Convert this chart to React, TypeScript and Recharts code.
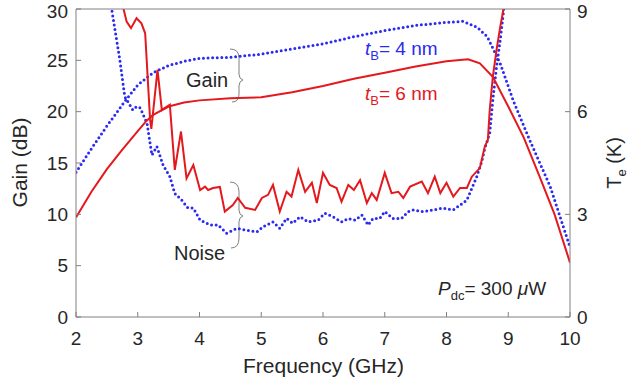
import { ComposedChart, Line, XAxis, YAxis, Customized } from "recharts";

const RED = "#e3191e";
const BLUE = "#2a2af2";
const INK = "#262626";
const AXIS = "#808080";
const font = "'Liberation Sans', Arial, sans-serif";

// frequency ticks (GHz), gain ticks (dB), noise temperature ticks (K)
const xTicks = [2, 3, 4, 5, 6, 7, 8, 9, 10];
const gainTicks = [0, 5, 10, 15, 20, 25, 30];
const teTicks = [0, 3, 6, 9];

// gain, t_B = 6 nm
const freqGain6 = [2, 2.25, 2.5, 2.75, 3, 3.14, 3.25, 3.5, 3.75, 4, 4.5, 5, 5.5, 6, 6.5, 7, 7.5, 8, 8.35, 8.54, 8.75, 9, 9.25, 9.5, 9.75, 10];
const gain6 = [9.7, 12.2, 14.4, 16.3, 18.1, 19.1, 19.7, 20.5, 20.9, 21.1, 21.3, 21.4, 21.9, 22.5, 23.2, 23.8, 24.4, 24.9, 25.1, 24.7, 23.4, 20.5, 17.5, 13.8, 10.0, 5.3];

// gain, t_B = 4 nm
const freqGain4 = [2, 2.25, 2.5, 2.79, 3, 3.25, 3.5, 3.75, 4, 4.5, 5, 5.5, 6, 6.5, 7, 7.5, 8, 8.27, 8.5, 8.66, 8.87, 9.08, 9.35, 9.68, 10];
const gain4 = [14.1, 16.4, 18.6, 21.0, 22.6, 23.8, 24.5, 24.9, 25.2, 25.3, 25.6, 26.1, 26.6, 27.3, 27.9, 28.4, 28.7, 28.8, 28.2, 27.3, 24.7, 21.1, 17.2, 12.7, 6.8];

// noise temperature T_e, t_B = 6 nm
const freqNoise6 = [2.74, 2.77, 2.82, 2.89, 2.98, 3.06, 3.12, 3.2, 3.22, 3.32, 3.39, 3.52, 3.6, 3.7, 3.79, 3.9, 4.01, 4.09, 4.14, 4.22, 4.33, 4.41, 4.54, 4.62, 4.74, 4.9, 5.01, 5.11, 5.19, 5.3, 5.41, 5.49, 5.6, 5.71, 5.82, 5.9, 6.0, 6.11, 6.22, 6.3, 6.41, 6.5, 6.6, 6.71, 6.79, 6.87, 7.0, 7.11, 7.22, 7.3, 7.41, 7.6, 7.7, 7.81, 7.9, 8.0, 8.11, 8.22, 8.33, 8.41, 8.54, 8.62, 8.67, 8.7, 8.75, 8.81, 8.87, 8.92, 8.96];
const noise6 = [9.6, 9.0, 8.63, 8.44, 8.73, 8.58, 8.29, 5.76, 5.5, 7.22, 6.05, 6.2, 4.3, 5.42, 4.05, 4.44, 3.71, 3.81, 3.71, 3.77, 3.8, 3.08, 3.27, 3.48, 3.19, 3.13, 3.48, 3.57, 3.86, 3.08, 3.66, 3.52, 4.3, 3.66, 3.92, 3.33, 4.21, 3.86, 3.77, 3.37, 3.86, 3.71, 4.0, 3.33, 3.62, 3.42, 4.21, 3.62, 3.66, 3.48, 3.81, 3.96, 3.62, 4.1, 3.62, 3.92, 3.52, 3.77, 3.77, 4.1, 4.35, 4.98, 5.17, 6.05, 7.02, 7.8, 8.48, 8.97, 9.6];

// noise temperature T_e, t_B = 4 nm
const freqNoise4 = [2.55, 2.58, 2.71, 2.79, 2.92, 2.98, 3.04, 3.15, 3.23, 3.31, 3.41, 3.52, 3.6, 3.71, 3.81, 3.9, 4.01, 4.17, 4.3, 4.44, 4.6, 4.76, 4.93, 5.03, 5.19, 5.3, 5.41, 5.51, 5.63, 5.76, 5.92, 6.03, 6.16, 6.3, 6.41, 6.52, 6.63, 6.73, 6.81, 6.92, 7.0, 7.13, 7.27, 7.38, 7.46, 7.62, 7.78, 7.94, 8.11, 8.22, 8.33, 8.41, 8.49, 8.57, 8.62, 8.7, 8.75, 8.81, 8.87, 8.92, 8.96];
const noise4 = [9.6, 8.97, 7.51, 6.44, 6.05, 6.15, 6.11, 5.66, 4.73, 4.98, 4.44, 4.1, 3.61, 3.42, 3.19, 3.18, 2.83, 2.69, 2.69, 2.45, 2.59, 2.54, 2.49, 2.64, 2.78, 2.59, 2.88, 2.74, 2.93, 2.78, 2.83, 3.03, 2.93, 2.78, 2.88, 2.83, 2.98, 2.69, 2.88, 2.88, 3.08, 2.88, 2.88, 3.08, 3.13, 3.08, 3.13, 3.18, 3.13, 3.27, 3.42, 3.76, 4.1, 4.54, 4.93, 5.37, 6.34, 7.31, 8.09, 8.87, 9.6];

const zip = (xs: number[], ys: number[]) => xs.map((f, i) => ({ f, v: ys[i] }));

const tickText = { fill: INK, fontSize: 19, fontFamily: font };

function Annotations() {
  const brace = { fill: "none", stroke: AXIS, strokeWidth: 1 };
  return (
    <g fontFamily={font}>
      <text x={186} y={87} fontSize={20} fill={INK}>Gain</text>
      <path d="M230 49 Q239 49 239 58 L239 74 Q239 79 243 80 Q239 81 239 86 L239 94 Q239 102 232 102" style={brace} />
      <text x={174} y={260} fontSize={20} fill={INK}>Noise</text>
      <path d="M230 182 Q239 182 239 192 L239 210 Q239 215 243 216 Q239 217 239 222 L239 238 Q239 248 231 248" style={brace} />

      <text x={365} y={55} fontSize={19} fill={BLUE}>
        <tspan fontStyle="italic">t</tspan>
        <tspan fontSize={13} dy={5}>B</tspan>
        <tspan dy={-5}>= 4 nm</tspan>
      </text>
      <text x={365} y={100} fontSize={19} fill={RED}>
        <tspan fontStyle="italic">t</tspan>
        <tspan fontSize={13} dy={5}>B</tspan>
        <tspan dy={-5}>= 6 nm</tspan>
      </text>
      <text x={438} y={295} fontSize={19} fill={INK}>
        <tspan fontStyle="italic">P</tspan>
        <tspan fontSize={13} dy={5}>dc</tspan>
        <tspan dy={-5}>= 300 </tspan>
        <tspan fontStyle="italic">μ</tspan>
        <tspan>W</tspan>
      </text>

      <text x={323.5} y={373} textAnchor="middle" fontSize={21} fill={INK}>Frequency (GHz)</text>
      <text transform="translate(27,162.5) rotate(-90)" textAnchor="middle" fontSize={21} fill={INK}>Gain (dB)</text>
      <text transform="translate(621,163) rotate(-90)" textAnchor="middle" fontSize={20} fill={INK}>
        T<tspan fontSize={13} dy={5}>e</tspan>
        <tspan dy={-5}> (K)</tspan>
      </text>
    </g>
  );
}

export default function App() {
  return (
    <div style={{ position: "absolute", left: 0, top: 0, width: 629, height: 383, background: "#fff" }}>
      <ComposedChart width={629} height={383} margin={{ top: 0, right: 0, bottom: 0, left: 0 }}>
        <XAxis
          xAxisId="b"
          dataKey="f"
          type="number"
          domain={[2, 10]}
          ticks={xTicks}
          height={66}
          tickSize={-5}
          tickMargin={20}
          stroke={AXIS}
          tick={tickText}
          allowDataOverflow
        />
        <XAxis
          xAxisId="t"
          type="number"
          orientation="top"
          domain={[2, 10]}
          ticks={xTicks}
          height={9}
          tickSize={-5}
          tick={false}
          stroke={AXIS}
          allowDataOverflow
        />
        <YAxis
          yAxisId="g"
          type="number"
          domain={[0, 30]}
          ticks={gainTicks}
          width={76}
          tickSize={-5}
          tickMargin={13}
          stroke={AXIS}
          tick={tickText}
          allowDataOverflow
        />
        <YAxis
          yAxisId="n"
          type="number"
          orientation="right"
          domain={[0, 9]}
          ticks={teTicks}
          width={59}
          tickSize={-5}
          tickMargin={12}
          stroke={AXIS}
          tick={tickText}
          allowDataOverflow
        />
        <Line xAxisId="b" yAxisId="g" data={zip(freqGain4, gain4)} dataKey="v" type="linear" stroke={BLUE} strokeWidth={3} strokeDasharray="0 4.6" strokeLinecap="round" dot={false} isAnimationActive={false} />
        <Line xAxisId="b" yAxisId="n" data={zip(freqNoise4, noise4)} dataKey="v" type="linear" stroke={BLUE} strokeWidth={3} strokeDasharray="0 4.6" strokeLinecap="round" dot={false} isAnimationActive={false} />
        <Line xAxisId="b" yAxisId="g" data={zip(freqGain6, gain6)} dataKey="v" type="linear" stroke={RED} strokeWidth={2} dot={false} isAnimationActive={false} />
        <Line xAxisId="b" yAxisId="n" data={zip(freqNoise6, noise6)} dataKey="v" type="linear" stroke={RED} strokeWidth={2} dot={false} isAnimationActive={false} />
        <Customized component={Annotations} />
      </ComposedChart>
    </div>
  );
}
